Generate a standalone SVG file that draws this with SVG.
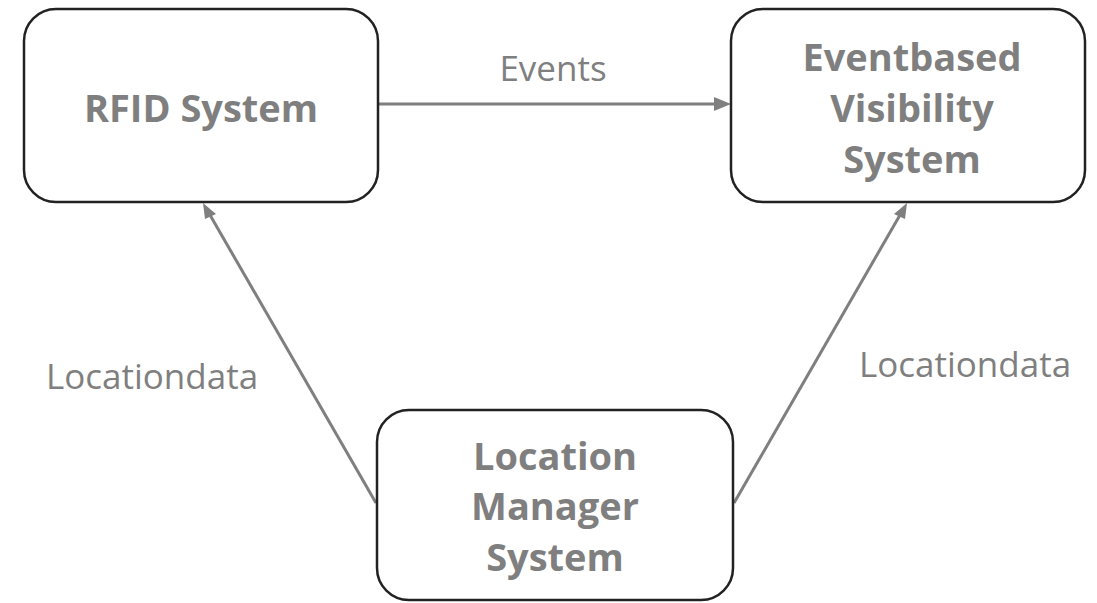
<svg xmlns="http://www.w3.org/2000/svg" width="1097" height="603" viewBox="0 0 1097 603">
<style>
.box{fill:#fff;stroke:#222;stroke-width:2.5}
.t{font-family:"Open Sans","DejaVu Sans",sans-serif;font-weight:bold;font-size:38px;fill:#7f7f7f;text-anchor:middle}
.l{font-family:"Open Sans","DejaVu Sans",sans-serif;font-size:35px;fill:#7f7f7f;text-anchor:middle}
.c{stroke:#7f7f7f;stroke-width:3;fill:none}
.h{fill:#7f7f7f}
</style>
<g id="connectors">
<line class="c" x1="378" y1="104" x2="716" y2="104"/>
<path class="h" d="M714,97 L731,104 L714,111 z"/>
<line class="c" x1="376" y1="503" x2="210" y2="215"/>
<path class="h" d="M203,203 L216,214 L205,219 z"/>
<line class="c" x1="734" y1="503" x2="900" y2="215"/>
<path class="h" d="M907,203 L905,219 L894,214 z"/>
<text class="l" x="553" y="81">Events</text>
<text class="l" x="152" y="389">Locationdata</text>
<text class="l" x="965" y="377">Locationdata</text>
</g>
<g id="rfid">
<rect class="box" x="24" y="9" width="354" height="193" rx="32"/>
<text class="t" x="201" y="122">RFID System</text>
</g>
<g id="evs">
<rect class="box" x="731" y="9" width="354" height="193" rx="32"/>
<text class="t" x="912" y="71">Eventbased</text>
<text class="t" x="912" y="122">Visibility</text>
<text class="t" x="912" y="173">System</text>
</g>
<g id="lms">
<rect class="box" x="377" y="410" width="356" height="190" rx="32"/>
<text class="t" x="555" y="470">Location</text>
<text class="t" x="555" y="520">Manager</text>
<text class="t" x="555" y="571">System</text>
</g>
</svg>
